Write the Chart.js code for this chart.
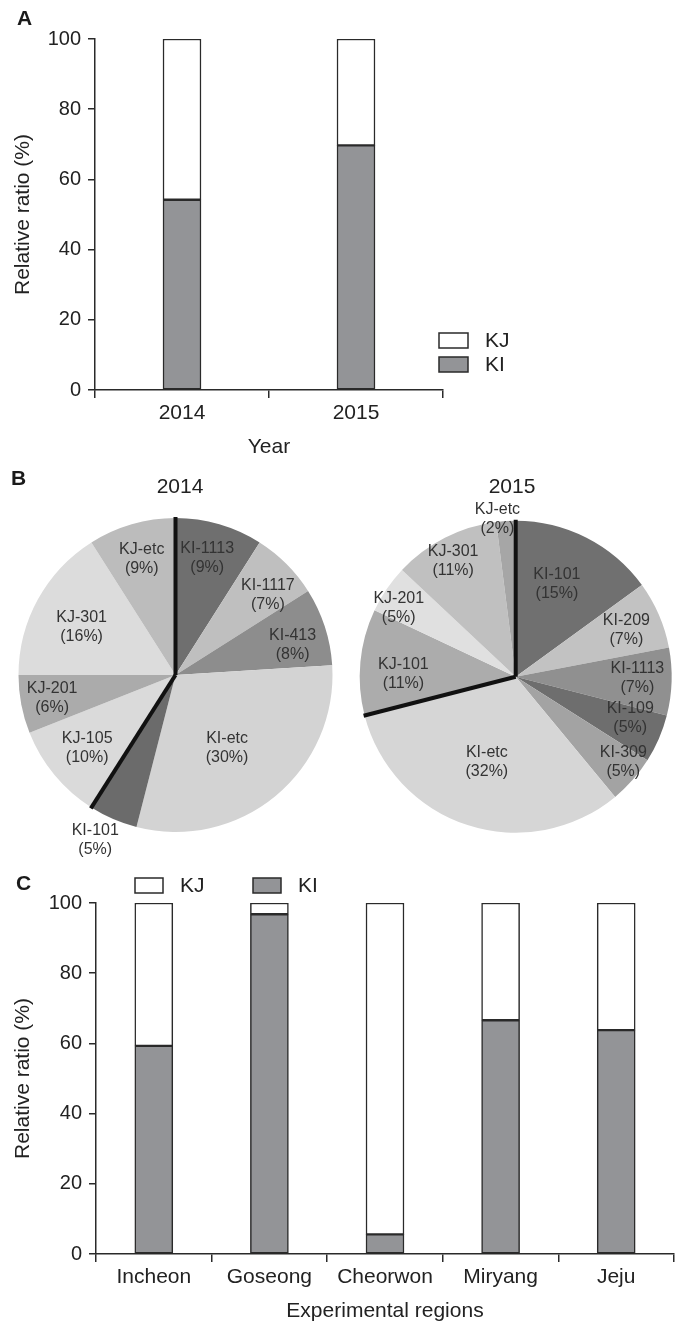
<!DOCTYPE html>
<html>
<head>
<meta charset="utf-8">
<script src="https://cdn.jsdelivr.net/npm/chart.js@4.4.1/dist/chart.umd.min.js"></script>
<style>
html,body{margin:0;padding:0;background:#fff;}
#wrap{position:relative;width:685px;height:1325px;overflow:hidden;background:#fff;}
canvas{position:absolute;}
</style>
</head>
<body>
<div id="wrap">
  <canvas id="pie1" width="345" height="400" style="left:0;top:460px"></canvas>
  <canvas id="pie2" width="340" height="400" style="left:345px;top:460px"></canvas>
  <canvas id="chartA" width="685" height="460" style="left:0;top:0"></canvas>
  <canvas id="chartC" width="685" height="485" style="left:0;top:840px"></canvas>
</div>
<script>
// ---------------- DATA ----------------
const years = ['2014', '2015'];
const kiByYear = [54.2, 69.7];
const kjByYear = [45.8, 30.3];

const regions = ['Incheon', 'Goseong', 'Cheorwon', 'Miryang', 'Jeju'];
const kiByRegion = [59.3, 96.8, 5.6, 66.6, 63.8];
const kjByRegion = [40.7, 3.2, 94.4, 33.4, 36.2];

const yTickValues = [0, 20, 40, 60, 80, 100];

const pieLabels2014 = ['KI-1113', 'KI-1117', 'KI-413', 'KI-etc', 'KI-101', 'KJ-105', 'KJ-201', 'KJ-301', 'KJ-etc'];
const pieValues2014 = [9, 7, 8, 30, 5, 10, 6, 16, 9];
const kiCount2014 = 5;

const pieLabels2015 = ['KI-101', 'KI-209', 'KI-1113', 'KI-109', 'KI-309', 'KI-etc', 'KJ-101', 'KJ-201', 'KJ-301', 'KJ-etc'];
const pieValues2015 = [15, 7, 7, 5, 5, 32, 11, 5, 11, 2];
const kiCount2015 = 6;

// ---------------- STYLES ----------------
const FONT = "'Liberation Sans', Arial, Helvetica, sans-serif";
Chart.defaults.font.family = FONT;
Chart.defaults.color = '#222';
const INK = '#2a2a2a';
const KI_FILL = '#939497';
const KJ_FILL = '#ffffff';

const pieColors2014 = ['#6f6f6f', '#bfbfbf', '#8d8d8d', '#d3d3d3', '#6b6b6b', '#dadada', '#ababab', '#dcdcdc', '#bcbcbc'];
const pieColors2015 = ['#707070', '#c2c2c2', '#909090', '#6e6e6e', '#a3a3a3', '#d6d6d6', '#acacac', '#e0e0e0', '#c0c0c0', '#a6a6a6'];
const labelRadius2014 = [0.77, 0.78, 0.77, 0.57, 1.17, 0.73, 0.80, 0.67, 0.77];
const labelShift2014 = [-1, 4, 3.6, 4.4, 2.5, 0, 0, -2, 0];
const labelRadius2015 = [0.65, 0.77, 0.78, 0.78, 0.88, 0.58, 0.72, 0.87, 0.84, 1.02];
const labelShift2015 = [-3, 0.6, -1.2, -3.7, -3, 0.6, -4, -3.7, -1.5, -3];

// ---------------- helpers ----------------
function textPlugin(id, draws) {
  return {
    id: id,
    afterDraw(chart) {
      const ctx = chart.ctx;
      ctx.save();
      draws(ctx, chart);
      ctx.restore();
    }
  };
}

function drawLegendItem(ctx, x, y, w, h, fill, text, tx) {
  ctx.fillStyle = fill;
  ctx.fillRect(x, y, w, h);
  ctx.lineWidth = 1.5;
  ctx.strokeStyle = INK;
  ctx.strokeRect(x, y, w, h);
  ctx.fillStyle = '#222';
  ctx.font = '21px ' + FONT;
  ctx.textBaseline = 'middle';
  ctx.textAlign = 'left';
  ctx.fillText(text, tx, y + h / 2 + 1);
}

function drawHeading(ctx, letter, x, baseline) {
  ctx.fillStyle = '#1a1a1a';
  ctx.font = 'bold 21px ' + FONT;
  ctx.textAlign = 'left';
  ctx.textBaseline = 'alphabetic';
  ctx.fillText(letter, x, baseline);
}

function barChart(canvasId, labels, ki, kj, xTitle, dims, extra) {
  return new Chart(document.getElementById(canvasId), {
    type: 'bar',
    data: {
      labels: labels,
      datasets: [
        { label: 'KI', data: ki, backgroundColor: KI_FILL, borderColor: INK, borderWidth: 1.5, borderSkipped: false, barThickness: 38 },
        { label: 'KJ', data: kj, backgroundColor: KJ_FILL, borderColor: INK, borderWidth: 1.5, borderSkipped: false, barThickness: 38 }
      ]
    },
    options: {
      responsive: false,
      animation: false,
      layout: { padding: { left: 0, right: dims.right, top: dims.top, bottom: 0 } },
      plugins: { legend: { display: false }, tooltip: { enabled: false } },
      scales: {
        x: {
          stacked: true,
          offset: true,
          grid: { display: true, drawOnChartArea: false, drawTicks: true, tickLength: 8, color: INK, lineWidth: 1.5, offset: true },
          border: { display: true, color: INK, width: 1.5 },
          ticks: { font: { size: 21 }, color: '#222', padding: 3, maxRotation: 0 },
          title: { display: true, text: xTitle, font: { size: 21 }, color: '#222', padding: { top: 0, bottom: dims.titlePad } },
          afterFit(s) { s.height = dims.xH; }
        },
        y: {
          stacked: true,
          min: 0,
          max: 100,
          afterBuildTicks(s) { s.ticks = yTickValues.map(v => ({ value: v })); },
          grid: { display: true, drawOnChartArea: false, drawTicks: true, tickLength: 7, color: INK, lineWidth: 1.5 },
          border: { display: true, color: INK, width: 1.5 },
          ticks: { font: { size: 20 }, color: '#222', padding: 7 },
          title: { display: true, text: 'Relative ratio (%)', font: { size: 21 }, color: '#222', padding: { top: 11, bottom: 0 } },
          afterFit(s) { s.width = dims.yW; }
        }
      }
    },
    plugins: [extra]
  });
}

// ---------------- Panel A ----------------
barChart('chartA', years, kiByYear, kjByYear, 'Year',
  { right: 242, top: 39, xH: 70, yW: 95, titlePad: 0 },
  textPlugin('extraA', (ctx) => {
    drawHeading(ctx, 'A', 17, 25);
    drawLegendItem(ctx, 439, 333, 29, 15, KJ_FILL, 'KJ', 485);
    drawLegendItem(ctx, 439, 357, 29, 15, KI_FILL, 'KI', 485);
  })
);

// ---------------- Panel C ----------------
barChart('chartC', regions, kiByRegion, kjByRegion, 'Experimental regions',
  { right: 11, top: 63, xH: 71, yW: 96, titlePad: 1 },
  textPlugin('extraC', (ctx) => {
    drawHeading(ctx, 'C', 16, 50);
    drawLegendItem(ctx, 135, 38, 28, 15, KJ_FILL, 'KJ', 180);
    drawLegendItem(ctx, 253, 38, 28, 15, KI_FILL, 'KI', 298);
  })
);

// ---------------- Panel B (pies) ----------------
function pieChart(canvasId, labels, values, colors, kiCount, radii, shifts, title, titleX, pad, heading) {
  return new Chart(document.getElementById(canvasId), {
    type: 'pie',
    data: {
      labels: labels,
      datasets: [{ data: values, backgroundColor: colors, borderWidth: 0 }]
    },
    options: {
      responsive: false,
      animation: false,
      layout: { padding: pad },
      plugins: { legend: { display: false }, tooltip: { enabled: false } }
    },
    plugins: [textPlugin('pieExtra' + canvasId, (ctx, chart) => {
      const meta = chart.getDatasetMeta(0);
      const arcs = meta.data;
      const p0 = arcs[0].getProps(['x', 'y', 'startAngle', 'outerRadius'], true);
      const pk = arcs[kiCount - 1].getProps(['endAngle'], true);
      // KI / KJ separators
      ctx.strokeStyle = '#111';
      ctx.lineWidth = 4;
      ctx.lineCap = 'butt';
      [p0.startAngle, pk.endAngle].forEach(a => {
        ctx.beginPath();
        ctx.moveTo(p0.x, p0.y);
        ctx.lineTo(p0.x + Math.cos(a) * (p0.outerRadius + 1), p0.y + Math.sin(a) * (p0.outerRadius + 1));
        ctx.stroke();
      });
      // slice labels
      ctx.fillStyle = '#333';
      ctx.font = '16px ' + FONT;
      ctx.textAlign = 'center';
      ctx.textBaseline = 'middle';
      arcs.forEach((el, i) => {
        const p = el.getProps(['x', 'y', 'startAngle', 'endAngle', 'outerRadius'], true);
        const mid = (p.startAngle + p.endAngle) / 2 + shifts[i] * Math.PI / 180;
        const r = radii[i] * p.outerRadius;
        const cx = p.x + Math.cos(mid) * r;
        const cy = p.y + Math.sin(mid) * r;
        ctx.fillText(labels[i], cx, cy - 9.5);
        ctx.fillText('(' + values[i] + '%)', cx, cy + 9.5);
      });
      // title
      ctx.fillStyle = '#222';
      ctx.font = '21px ' + FONT;
      ctx.fillText(title, titleX, 27);
      if (heading) drawHeading(ctx, heading, 11, 25);
    })]
  });
}

pieChart('pie1', pieLabels2014, pieValues2014, pieColors2014, kiCount2014, labelRadius2014, labelShift2014,
  years[0], 180, { left: 18.5, right: 12.5, top: 58, bottom: 28 }, 'B');
pieChart('pie2', pieLabels2015, pieValues2015, pieColors2015, kiCount2015, labelRadius2015, labelShift2015,
  years[1], 167, { left: 14.7, right: 13.3, top: 60.7, bottom: 27.3 }, null);
</script>
</body>
</html>
